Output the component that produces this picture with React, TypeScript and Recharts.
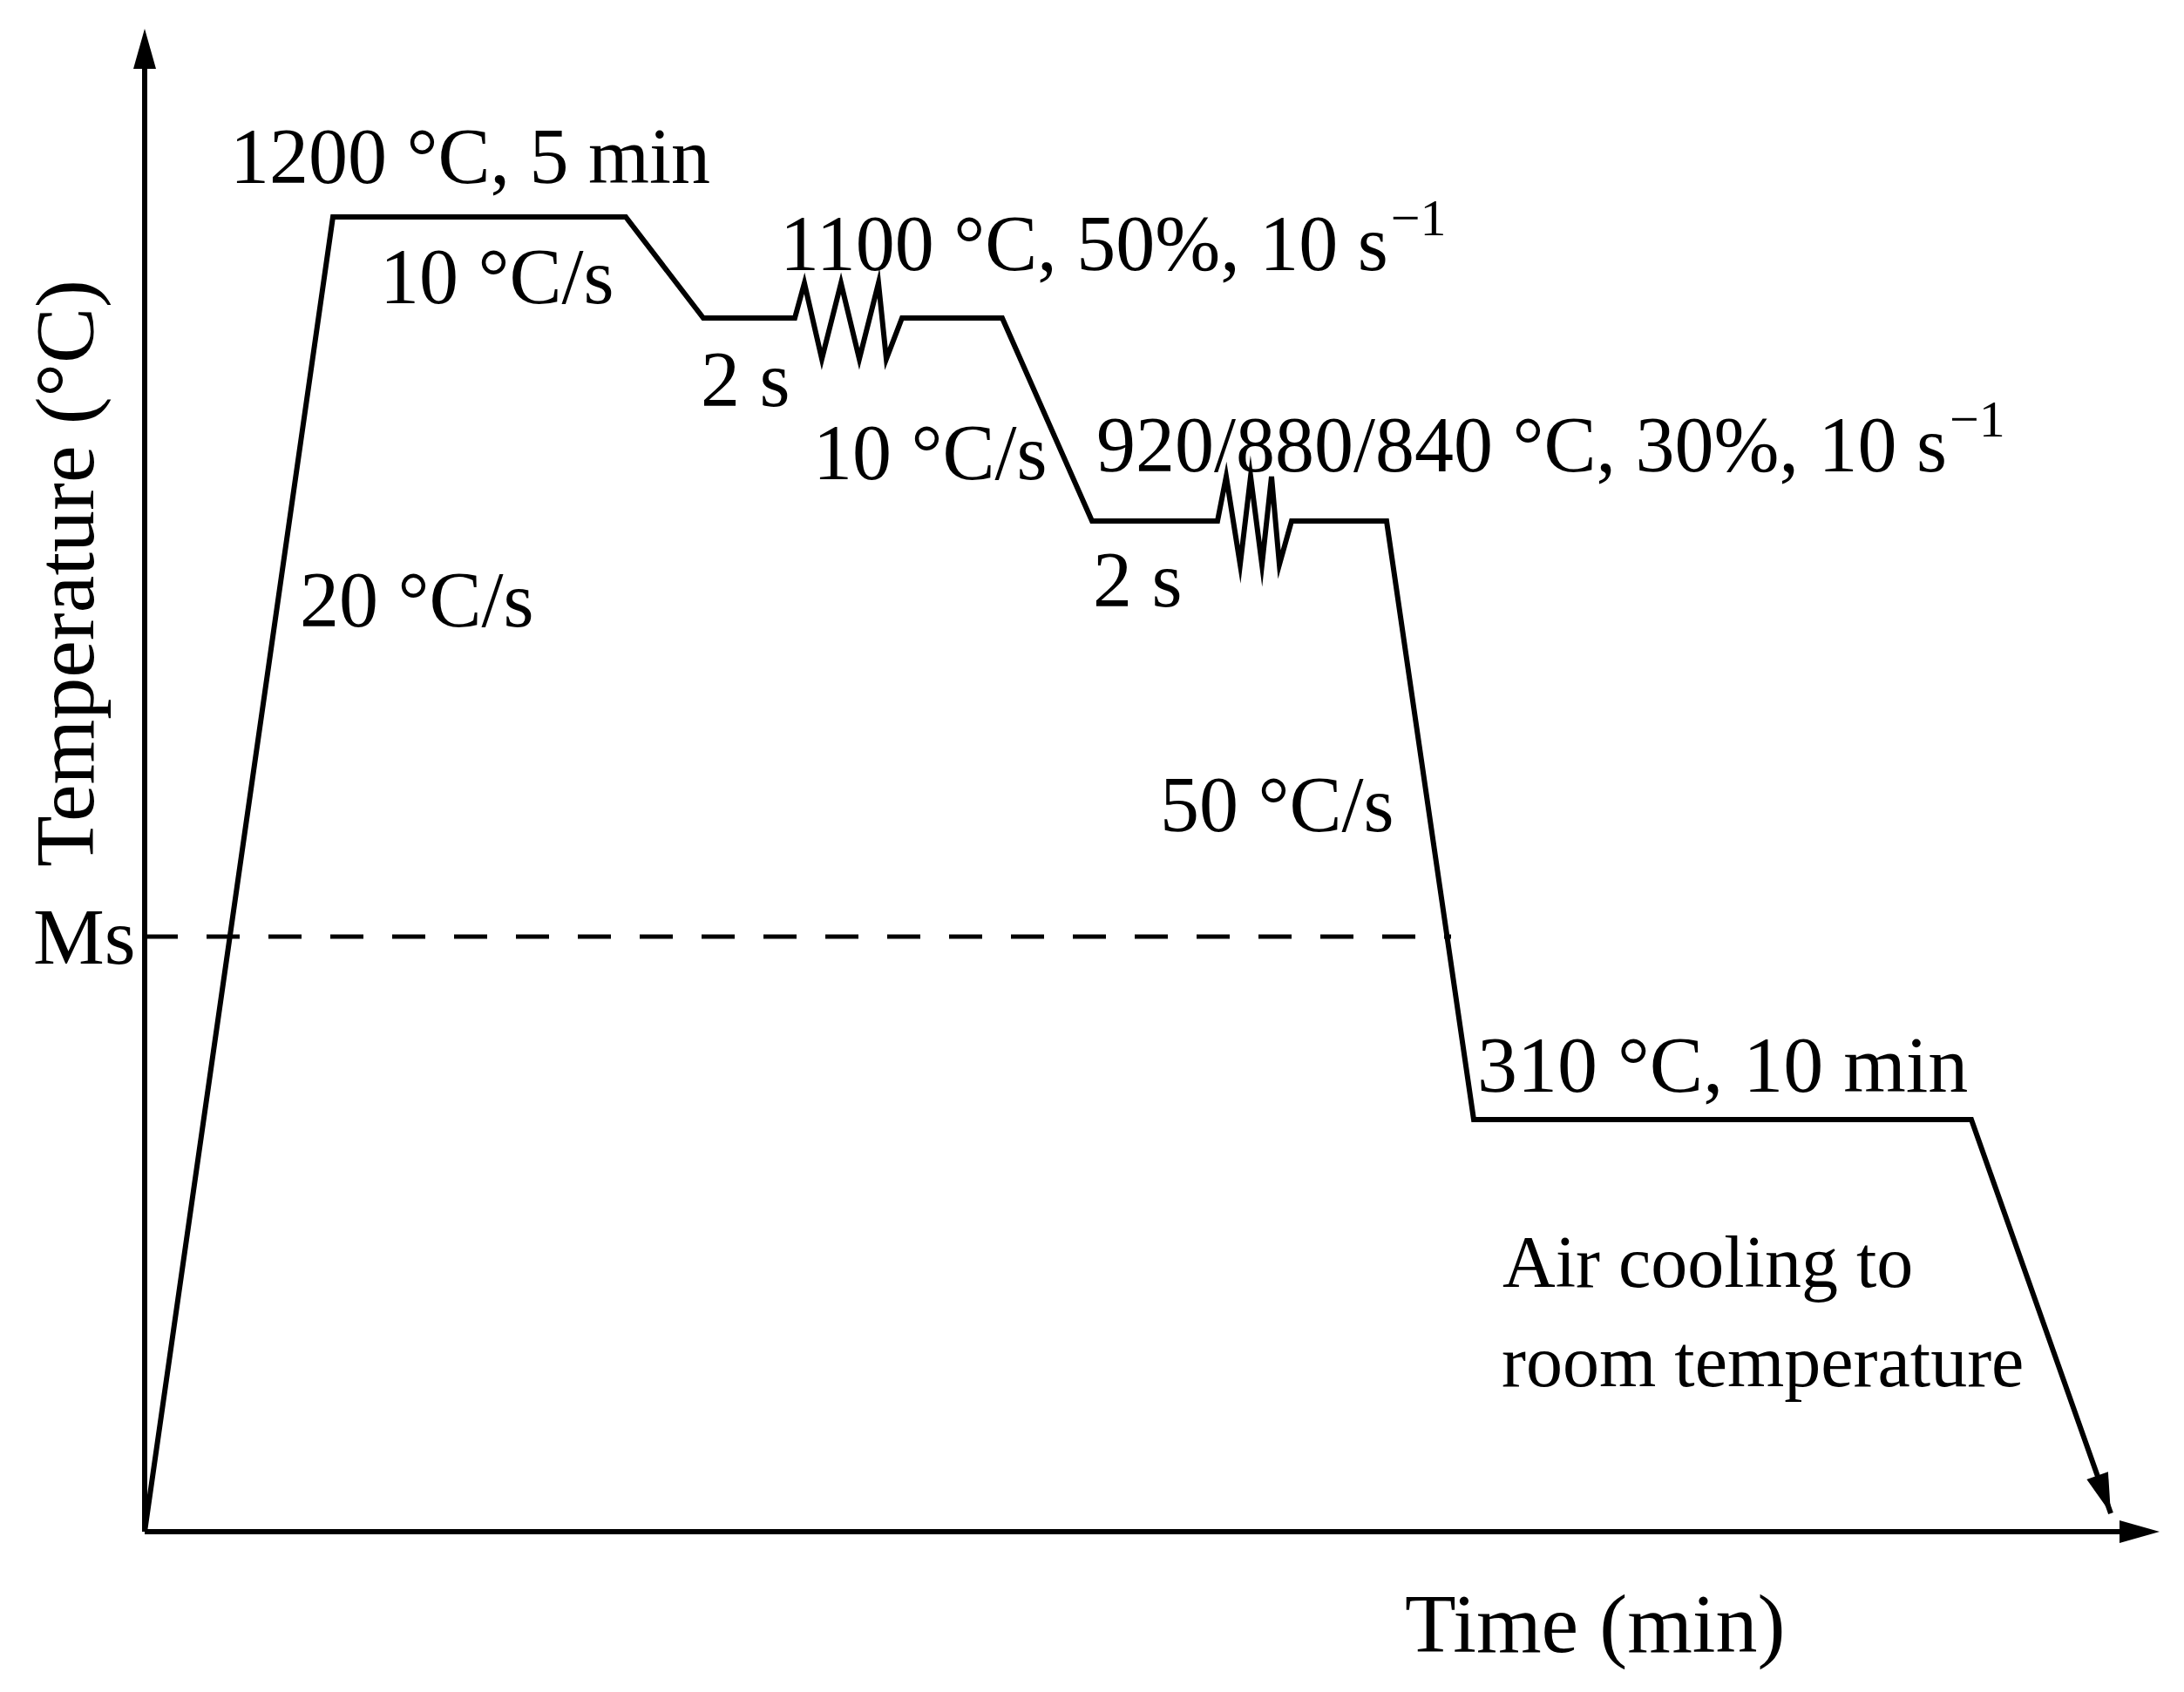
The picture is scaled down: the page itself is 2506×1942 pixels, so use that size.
import React from "react";
import { LineChart, Line, XAxis, YAxis, ReferenceLine, ReferenceDot } from "recharts";

// schematic time / temperature levels (arbitrary units)
const time = [0, 216, 552, 641, 746, 757, 777, 799, 820, 842, 851, 869, 984, 1087, 1231, 1241, 1257, 1269, 1282, 1293, 1302, 1316, 1425, 1525, 2096, 2256];
const temp = [0, 1509, 1509, 1393, 1393, 1433, 1346, 1433, 1346, 1433, 1346, 1393, 1393, 1160, 1160, 1211, 1110, 1211, 1110, 1211, 1110, 1160, 1160, 473, 473, 21];

const msLevel = 683;
const msEnd = 1499;
const xMax = 2312;
const yMax = 1725;

type Note = { text: string; x: number; y: number; sup?: string; size?: number };

const notes: Note[] = [
  { text: "1200 °C, 5 min", x: 98, y: 1548 },
  { text: "10 °C/s", x: 270, y: 1410 },
  { text: "1100 °C, 50%, 10 s", sup: "−1", x: 729, y: 1448 },
  { text: "2 s", x: 638, y: 1292 },
  { text: "10 °C/s", x: 767, y: 1208 },
  { text: "920/880/840 °C, 30%, 10 s", sup: "−1", x: 1092, y: 1217 },
  { text: "2 s", x: 1088, y: 1062 },
  { text: "20 °C/s", x: 178, y: 1039 },
  { text: "50 °C/s", x: 1165, y: 804 },
  { text: "310 °C, 10 min", x: 1529, y: 505, size: 92 },
  { text: "Air cooling to", x: 1558, y: 281, size: 84 },
  { text: "room temperature", x: 1557, y: 167, size: 84 },
  { text: "Time (min)", x: 1446, y: -138, size: 96 },
  { text: "Ms", x: -128, y: 652, size: 92 },
];

const data = time.map((t, i) => ({ t, temp: temp[i] }));

const FONT = "'Liberation Serif', 'Times New Roman', serif";
const HEAD_LEN = 46;
const HEAD_W = 13;

const head = (cx: number, cy: number, ux: number, uy: number) => {
  // tip at (cx, cy), pointing along unit vector (ux, uy)
  const bx = cx - ux * HEAD_LEN;
  const by = cy - uy * HEAD_LEN;
  const px = -uy * HEAD_W;
  const py = ux * HEAD_W;
  return (
    <polygon
      points={`${cx},${cy} ${bx + px},${by + py} ${bx - px},${by - py}`}
      fill="#000"
    />
  );
};

const EndArrow = (props: any) => {
  const { cx, cy, index } = props;
  if (index !== data.length - 1) return <g key={index} />;
  const dx = time[index] - time[index - 1];
  const dy = -(temp[index] - temp[index - 1]);
  const len = Math.hypot(dx, dy);
  return <g key={index}>{head(cx, cy, dx / len, dy / len)}</g>;
};

const NoteShape = (n: Note) => (props: any) => (
  <text x={props.cx} y={props.cy} fontFamily={FONT} fontSize={n.size ?? 90} fill="#000">
    {n.text}
    {n.sup && (
      <tspan dx={3} dy={-40} fontSize={60}>
        {n.sup}
      </tspan>
    )}
  </text>
);

export default function App() {
  return (
    <div style={{ position: "absolute", left: 0, top: 0, background: "#fff" }}>
      <LineChart
        width={2506}
        height={1942}
        data={data}
        margin={{ top: 33, right: 28, bottom: 184, left: 166 }}
      >
        <XAxis dataKey="t" type="number" domain={[0, xMax]} hide allowDataOverflow />
        <YAxis type="number" domain={[0, yMax]} hide allowDataOverflow />

        <ReferenceLine
          segment={[{ x: 0, y: 0 }, { x: 0, y: yMax - 30 }]}
          stroke="#000"
          strokeWidth={6}
          ifOverflow="visible"
        />
        <ReferenceLine
          segment={[{ x: 0, y: 0 }, { x: xMax - 30, y: 0 }]}
          stroke="#000"
          strokeWidth={6}
          ifOverflow="visible"
        />
        <ReferenceDot x={0} y={yMax} ifOverflow="visible" shape={(p: any) => head(p.cx, p.cy, 0, -1)} />
        <ReferenceDot x={xMax} y={0} ifOverflow="visible" shape={(p: any) => head(p.cx, p.cy, 1, 0)} />

        <ReferenceLine
          segment={[{ x: 0, y: msLevel }, { x: msEnd, y: msLevel }]}
          stroke="#000"
          strokeWidth={5}
          strokeDasharray="38 33"
          ifOverflow="visible"
        />

        <Line
          type="linear"
          dataKey="temp"
          stroke="#000"
          strokeWidth={6}
          strokeLinejoin="miter"
          strokeMiterlimit={10}
          dot={EndArrow}
          activeDot={false}
          isAnimationActive={false}
        />

        {notes.map((n, i) => (
          <ReferenceDot key={i} x={n.x} y={n.y} ifOverflow="visible" shape={NoteShape(n)} />
        ))}
        <ReferenceDot
          x={-59}
          y={1100}
          ifOverflow="visible"
          shape={(p: any) => (
            <text
              x={p.cx}
              y={p.cy}
              transform={`rotate(-90 ${p.cx} ${p.cy})`}
              textAnchor="middle"
              fontFamily={FONT}
              fontSize={96}
              fill="#000"
            >
              Temperature (°C)
            </text>
          )}
        />
      </LineChart>
    </div>
  );
}
